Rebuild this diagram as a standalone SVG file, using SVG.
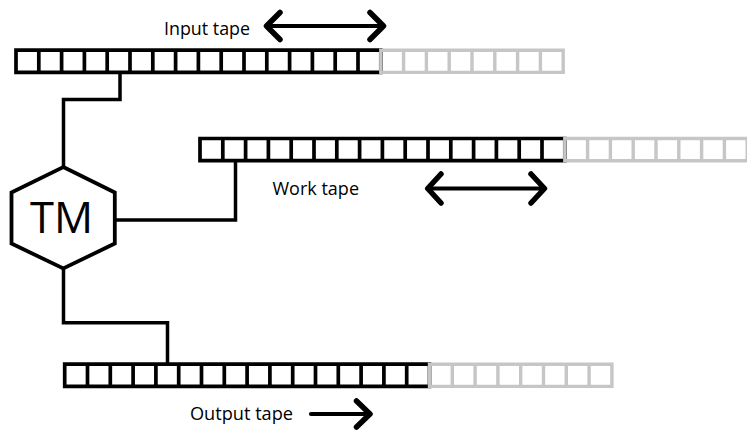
<svg xmlns="http://www.w3.org/2000/svg" xmlns:xlink="http://www.w3.org/1999/xlink" width="747" height="432" viewBox="0 0 747 432">
<style>
.blk{fill:none;stroke:#000;stroke-width:3.7}
.gry{fill:none;stroke:#c6c6c6;stroke-width:3.4}
.con{fill:none;stroke:#000;stroke-width:3.5}
.hex{fill:#fff;stroke:#000;stroke-width:3.8}
.arr{fill:none;stroke:#000;stroke-width:5.5;stroke-linecap:round;stroke-linejoin:round}
.shaft{fill:none;stroke:#000;stroke-width:4.2;stroke-linecap:round}
.lbl{font-family:"Open Sans","Liberation Sans",sans-serif;font-size:18px;fill:#000}
.tm{font-family:"Open Sans","Liberation Sans",sans-serif;font-size:43px;fill:#000}
</style>
<defs>
<g id="tape">
<path class="blk" d="M0 0H364.8V22.2H0Z M22.8 0V22.2 M45.6 0V22.2 M68.4 0V22.2 M91.2 0V22.2 M114 0V22.2 M136.8 0V22.2 M159.6 0V22.2 M182.4 0V22.2 M205.2 0V22.2 M228 0V22.2 M250.8 0V22.2 M273.6 0V22.2 M296.4 0V22.2 M319.2 0V22.2 M342 0V22.2"/>
<path class="gry" d="M364.8 0H547.2V22.2H364.8Z M387.6 0V22.2 M410.4 0V22.2 M433.2 0V22.2 M456 0V22.2 M478.8 0V22.2 M501.6 0V22.2 M524.4 0V22.2"/>
</g>
</defs>
<rect width="747" height="432" fill="#fff"/>
<g id="connectors">
<path class="con" d="M63.5 168V99.5H120V72"/>
<path class="con" d="M114 220H235.5V160"/>
<path class="con" d="M63.5 268V322.7H167.5V364"/>
</g>
<g id="input-tape">
<use xlink:href="#tape" x="16" y="50.2"/>
<text class="lbl" x="164" y="35" textLength="86" lengthAdjust="spacingAndGlyphs">Input tape</text>
<path class="shaft" d="M267 26H383"/>
<path class="arr" d="M280 12.5L266.5 26L280 39.5 M370 12.5L383.5 26L370 39.5"/>
</g>
<g id="work-tape">
<use xlink:href="#tape" x="200" y="138.5"/>
<text class="lbl" x="272.5" y="195" textLength="86.5" lengthAdjust="spacingAndGlyphs">Work tape</text>
<path class="shaft" d="M429 188.5H543"/>
<path class="arr" d="M441 174L427.7 188.5L441 203 M531 174L544.5 188.5L531 203"/>
</g>
<g id="output-tape">
<use xlink:href="#tape" x="64.7" y="364.2"/>
<text class="lbl" x="190" y="419.5" textLength="103" lengthAdjust="spacingAndGlyphs">Output tape</text>
<path class="shaft" d="M311 414H369"/>
<path class="arr" d="M356.5 401L370 414L356.5 427"/>
</g>
<g id="tm">
<polygon class="hex" points="63.3,167 114.8,192.5 114.8,243.5 63.3,268.5 11.5,243.5 11.5,192.5"/>
<text class="tm" x="30" y="233.3" textLength="63" lengthAdjust="spacingAndGlyphs">TM</text>
</g>
</svg>
